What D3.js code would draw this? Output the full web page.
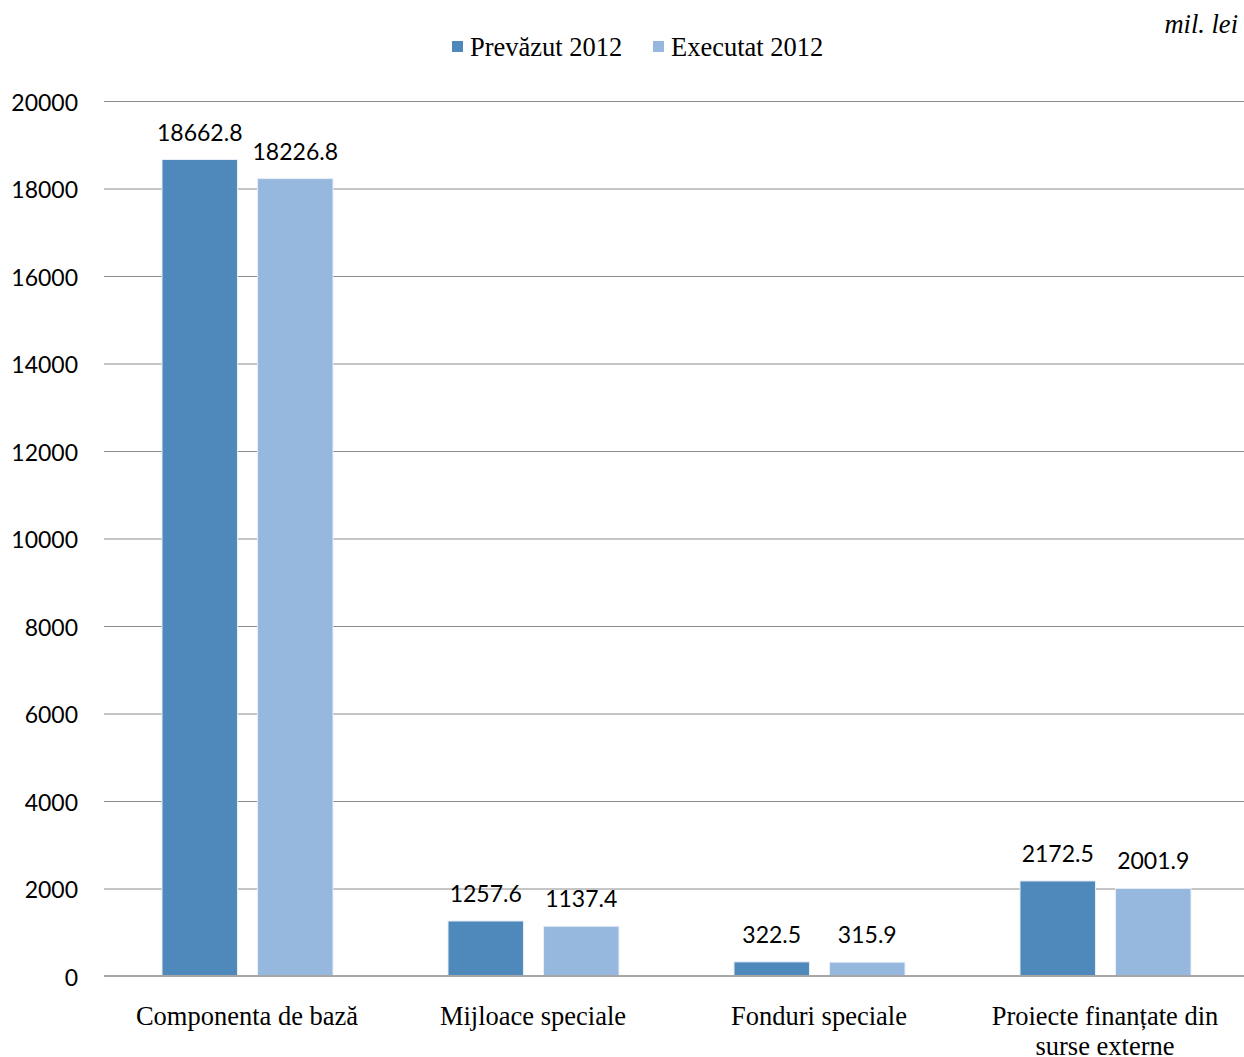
<!DOCTYPE html>
<html>
<head>
<meta charset="utf-8">
<script src="https://cdn.jsdelivr.net/npm/d3@7"></script>
<style>
  body { margin: 0; background: #fff; }
  svg { display: block; }
</style>
</head>
<body>
<svg id="chart" width="1244" height="1057"></svg>
<script>
// Budget components, million lei
const categories = [
  ["Componenta de bază"],
  ["Mijloace speciale"],
  ["Fonduri speciale"],
  ["Proiecte finanțate din", "surse externe"]
];
const seriesNames = ["Prevăzut 2012", "Executat 2012"];
const planned = [18662.8, 1257.6, 322.5, 2172.5];
const executed = [18226.8, 1137.4, 315.9, 2001.9];
const yTicks = [0, 2000, 4000, 6000, 8000, 10000, 12000, 14000, 16000, 18000, 20000];
const colors = ["#4f89bc", "#97b8de"];
const unitLabel = "mil. lei";

const svg = d3.select("#chart");
const W = 1244, H = 1057;
const plotLeft = 104, plotRight = 1248, plotTop = 101, plotBottom = 976;

const x0 = d3.scaleBand()
  .domain(d3.range(categories.length))
  .range([plotLeft, plotRight])
  .padding(0);
const x1 = d3.scaleBand()
  .domain(d3.range(seriesNames.length))
  .range([58, 229])
  .paddingInner(0.21)
  .paddingOuter(0);
const y = d3.scaleLinear().domain([0, 20000]).range([plotBottom, plotTop]);

// Gridlines
const yAxis = d3.axisLeft(y).tickValues(yTicks).tickSize(-(W - plotLeft)).tickFormat(d => d);
const gAxis = svg.append("g").attr("transform", `translate(${plotLeft},0)`).call(yAxis);
gAxis.select(".domain").remove();
gAxis.selectAll(".tick line").attr("stroke", "#8c8c8c").attr("stroke-width", 1);
gAxis.selectAll(".tick text")
  .attr("x", -26)
  .attr("dy", "0.4em")
  .attr("font-family", "Lato, 'Open Sans', sans-serif")
  .attr("font-size", 23)
  .attr("fill", "#000");

// Bars
const rows = categories.map((c, i) => [planned[i], executed[i]]);
const groups = svg.append("g").selectAll("g")
  .data(rows)
  .join("g")
  .attr("transform", (d, i) => `translate(${x0(i)},0)`);

groups.selectAll("rect")
  .data(d => d.map((v, s) => ({ v, s })))
  .join("rect")
  .attr("x", d => x1(d.s))
  .attr("width", x1.bandwidth())
  .attr("y", d => y(d.v))
  .attr("height", d => plotBottom - y(d.v))
  .attr("fill", d => colors[d.s])
  .attr("stroke", "#e8eef6")
  .attr("stroke-width", 1);

groups.selectAll("text.val")
  .data(d => d.map((v, s) => ({ v, s })))
  .join("text")
  .attr("class", "val")
  .attr("x", d => x1(d.s) + x1.bandwidth() / 2)
  .attr("y", d => y(d.v) - 19)
  .attr("text-anchor", "middle")
  .attr("font-family", "Lato, 'Open Sans', sans-serif")
  .attr("font-size", 23)
  .attr("fill", "#000")
  .text(d => d.v.toFixed(1));

// Baseline
svg.append("line")
  .attr("x1", plotLeft).attr("x2", W)
  .attr("y1", y(0)).attr("y2", y(0))
  .attr("stroke", "#a6a6a6").attr("stroke-width", 2);

// Category labels
const catText = svg.append("g").selectAll("text")
  .data(categories)
  .join("text")
  .attr("x", (d, i) => x0(i) + x0.bandwidth() / 2)
  .attr("y", 1025)
  .attr("text-anchor", "middle")
  .attr("font-family", "'Liberation Serif', 'Times New Roman', serif")
  .attr("font-size", 26.5)
  .attr("fill", "#000");
catText.selectAll("tspan")
  .data(d => d)
  .join("tspan")
  .attr("x", function () { return d3.select(this.parentNode).attr("x"); })
  .attr("dy", (d, i) => i === 0 ? 0 : 30)
  .text(d => d);

// Legend
const legend = svg.append("g");
const legendX = [452, 653];
seriesNames.forEach((name, i) => {
  legend.append("rect")
    .attr("x", legendX[i]).attr("y", 41)
    .attr("width", 11).attr("height", 11)
    .attr("fill", colors[i]);
  legend.append("text")
    .attr("x", legendX[i] + 18).attr("y", 56)
    .attr("font-family", "'Liberation Serif', 'Times New Roman', serif")
    .attr("font-size", 26.5)
    .attr("fill", "#000")
    .text(name);
});

// Unit label
svg.append("text")
  .attr("x", 1238).attr("y", 33)
  .attr("text-anchor", "end")
  .attr("font-family", "'Liberation Serif', 'Times New Roman', serif")
  .attr("font-style", "italic")
  .attr("font-size", 26.5)
  .attr("fill", "#000")
  .text(unitLabel);
</script>
</body>
</html>
